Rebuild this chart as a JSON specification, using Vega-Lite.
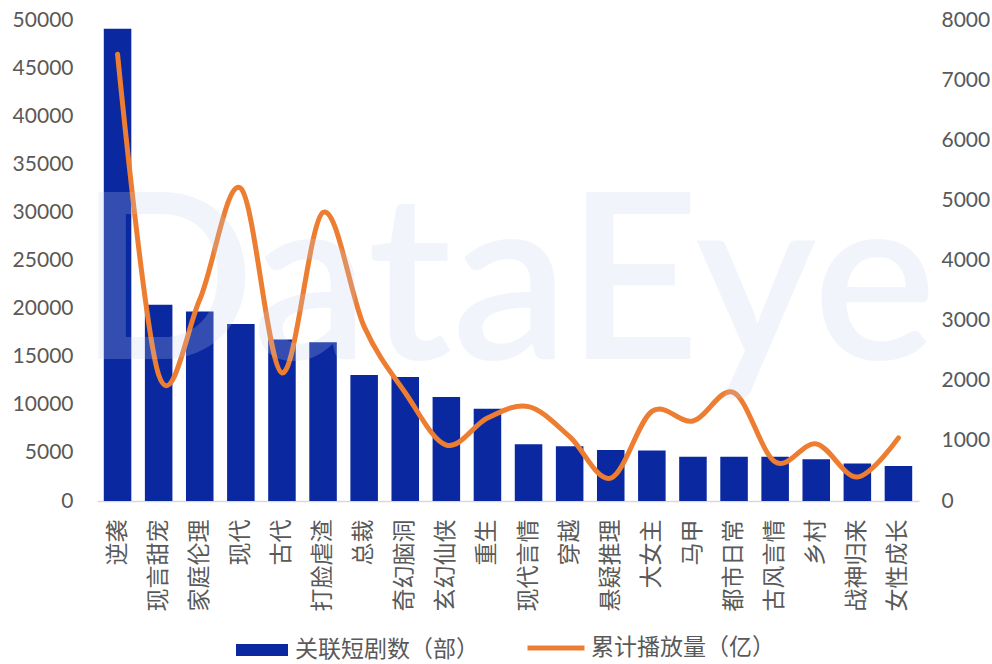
{
  "$schema": "https://vega.github.io/schema/vega-lite/v6.json",
  "width": 822,
  "height": 481,
  "autosize": {"type": "none"},
  "padding": {"left": 97, "top": 20, "right": 73, "bottom": 163},
  "background": "white",
  "config": {
    "view": {"stroke": null},
    "font": "Lato",
    "axis": {"labelColor": "#595959", "grid": false, "ticks": false, "tickSize": 0, "domain": false, "title": null}
  },
  "data": {
    "values": [
      {"类型": "逆袭", "关联短剧数": 49100, "累计播放量": 7430},
      {"类型": "现言甜宠", "关联短剧数": 20400, "累计播放量": 2100},
      {"类型": "家庭伦理", "关联短剧数": 19700, "累计播放量": 3350},
      {"类型": "现代", "关联短剧数": 18400, "累计播放量": 5200},
      {"类型": "古代", "关联短剧数": 16800, "累计播放量": 2130},
      {"类型": "打脸虐渣", "关联短剧数": 16500, "累计播放量": 4800},
      {"类型": "总裁", "关联短剧数": 13100, "累计播放量": 2900},
      {"类型": "奇幻脑洞", "关联短剧数": 12900, "累计播放量": 1800},
      {"类型": "玄幻仙侠", "关联短剧数": 10800, "累计播放量": 930},
      {"类型": "重生", "关联短剧数": 9600, "累计播放量": 1380},
      {"类型": "现代言情", "关联短剧数": 5900, "累计播放量": 1570},
      {"类型": "穿越", "关联短剧数": 5700, "累计播放量": 1070},
      {"类型": "悬疑推理", "关联短剧数": 5300, "累计播放量": 380},
      {"类型": "大女主", "关联短剧数": 5250, "累计播放量": 1490},
      {"类型": "马甲", "关联短剧数": 4600, "累计播放量": 1330},
      {"类型": "都市日常", "关联短剧数": 4600, "累计播放量": 1800},
      {"类型": "古风言情", "关联短剧数": 4600, "累计播放量": 650},
      {"类型": "乡村", "关联短剧数": 4350, "累计播放量": 950},
      {"类型": "战神归来", "关联短剧数": 3900, "累计播放量": 400},
      {"类型": "女性成长", "关联短剧数": 3650, "累计播放量": 1050}
    ]
  },
  "encoding": {
    "x": {
      "field": "类型",
      "type": "nominal",
      "sort": null,
      "scale": {"paddingInner": 0.33, "paddingOuter": 0.165},
      "axis": {
        "title": null,
        "labelAngle": -90,
        "labelFont": "Noto Sans CJK SC",
        "labelFontSize": 23,
        "labelPadding": 18,
        "labelColor": "#595959",
        "domain": true,
        "domainColor": "#D9D9D9",
        "domainWidth": 1.5
      }
    }
  },
  "layer": [
    {
      "mark": {"type": "bar"},
      "encoding": {
        "y": {
          "field": "关联短剧数",
          "type": "quantitative",
          "scale": {"domain": [0, 50000], "nice": false},
          "axis": {
            "orient": "left",
            "values": [0, 5000, 10000, 15000, 20000, 25000, 30000, 35000, 40000, 45000, 50000],
            "format": "d",
            "labelFont": "Lato",
            "labelFontSize": 21,
            "labelPadding": 24
          }
        },
        "fill": {
          "datum": "关联短剧数（部）",
          "type": "nominal",
          "scale": {"range": ["#0A28A0"]},
          "legend": {
            "orient": "none",
            "legendX": 139,
            "legendY": 604,
            "title": null,
            "symbolType": "M-1,-0.23H1V0.23H-1Z",
            "symbolSize": 2704,
            "symbolStrokeWidth": 0,
            "labelFont": "Noto Sans CJK SC",
            "labelFontSize": 23,
            "labelColor": "#595959",
            "labelOffset": 7,
            "labelLimit": 400
          }
        }
      }
    },
    {
      "mark": {"type": "line", "interpolate": "cardinal", "strokeWidth": 5, "strokeCap": "round", "strokeJoin": "round"},
      "encoding": {
        "y": {
          "field": "累计播放量",
          "type": "quantitative",
          "scale": {"domain": [0, 8000], "nice": false},
          "axis": {
            "orient": "right",
            "values": [0, 1000, 2000, 3000, 4000, 5000, 6000, 7000, 8000],
            "format": "d",
            "labelFont": "Lato",
            "labelFontSize": 21,
            "labelPadding": 22
          }
        },
        "stroke": {
          "datum": "累计播放量（亿）",
          "type": "nominal",
          "scale": {"range": ["#ED7D31"]},
          "legend": {
            "orient": "none",
            "legendX": 428,
            "legendY": 597,
            "title": null,
            "symbolType": "stroke",
            "symbolSize": 3249,
            "symbolStrokeWidth": 5,
            "labelFont": "Noto Sans CJK SC",
            "labelFontSize": 23,
            "labelColor": "#595959",
            "labelOffset": 4,
            "labelLimit": 400
          }
        }
      }
    },
    {
      "data": {"values": [{"标志": "DataEye"}]},
      "mark": {"type": "text", "font": "Lato", "fontSize": 232, "fontWeight": 600, "align": "center", "baseline": "alphabetic", "fill": "#C3D2EE", "opacity": 0.22, "dx": 20},
      "encoding": {
        "x": {"datum": "重生"},
        "y": {"datum": 14800, "type": "quantitative", "scale": {"domain": [0, 50000], "nice": false}, "axis": null},
        "text": {"field": "标志", "type": "nominal"}
      }
    }
  ],
  "resolve": {"scale": {"y": "independent"}}
}
